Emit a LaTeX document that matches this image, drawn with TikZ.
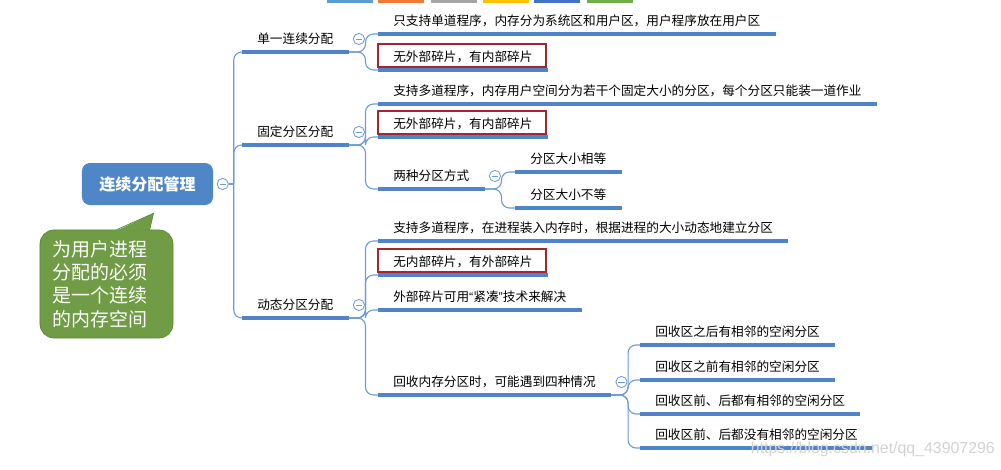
\documentclass[tikz,border=0pt]{standalone}
\usepackage{fontspec}
\setmainfont{Noto Sans CJK SC}
\newfontfamily\markfont{Liberation Sans}
\usetikzlibrary{positioning,calc}

\definecolor{lineblue}{HTML}{4F84CB}
\definecolor{linkblue}{HTML}{6E9CD9}
\definecolor{rootblue}{HTML}{4E86C8}
\definecolor{boxred}{HTML}{A5262B}
\definecolor{notegreen}{HTML}{6F9C45}
\definecolor{noteedge}{HTML}{5C8A36}

\begin{document}
\begin{tikzpicture}[
    x=0.025cm, y=-0.025cm,
    topic/.style={anchor=south west, inner xsep=0.375cm, inner ysep=0.16cm, text height=7.5pt, text depth=1.5pt, font=\fontsize{9}{11}\selectfont},
    uline/.style={lineblue, line width=2.2pt},
    link/.style={linkblue, line width=0.8pt, rounded corners=0.2cm},
    fold/.style={circle, draw=linkblue, line width=0.6pt, fill=white, minimum size=0.28cm, inner sep=0pt,
        path picture={\draw[linkblue, line width=0.6pt] ([xshift=-2.2pt]path picture bounding box.center) -- ([xshift=2.2pt]path picture bounding box.center);}},
    redbox/.style={boxred, line width=1.6pt},
    root/.style={rectangle, rounded corners=0.2cm, fill=rootblue, text=white, minimum width=3.275cm, minimum height=1.05cm, font=\fontsize{11.4}{13}\selectfont\bfseries},
    note/.style={rectangle, rounded corners=0.35cm, fill=notegreen, draw=noteedge, line width=0.5pt, text=white,
        minimum width=3.325cm, minimum height=2.7cm, inner xsep=0.325cm, text width=2.675cm, align=left, font=\fontsize{13.5}{16.7}\selectfont}
]
\useasboundingbox (0,0) rectangle (1001,469);

% tabs cut off at the top
\foreach \x/\c in {327/5B9BD5, 378/ED7D31, 431/A5A5A5, 483/FFC000, 534/4472C4, 587/70AD47} {
    \definecolor{tabcolor}{HTML}{\c}
    \fill[tabcolor] (\x,0) rectangle ++(46,2.5);
}

% root and note
\node[root] (root) at (147.5,184) {连续分配管理};
\node[fold, right=0.085cm of root] (root-fold) {};
\node[note] (memo) at (106.5,284) {为用户进程\\分配的必须\\是一个连续\\的内存空间};
\fill[notegreen] ([shift={(77,1)}]memo.north west) -- ([shift={(6,8)}]root.south) -- ([shift={(110,1)}]memo.north west) -- cycle;
\draw[noteedge, line width=0.5pt] ([shift={(77,0)}]memo.north west) -- ([shift={(6,8)}]root.south) -- ([shift={(110,0)}]memo.north west);

% first level
\node[topic] (single) at (242,52) {单一连续分配};
\node[topic] (fixed) at (242,145) {固定分区分配};
\node[topic] (dynamic) at (242,318) {动态分区分配};

% second level
\node[topic] (single-a) at (378,34) {只支持单道程序，内存分为系统区和用户区，用户程序放在用户区};
\node[topic] (single-b) at (378,70) {无外部碎片，有内部碎片};
\node[topic] (fixed-a) at (378,104) {支持多道程序，内存用户空间分为若干个固定大小的分区，每个分区只能装一道作业};
\node[topic] (fixed-b) at (378,137) {无外部碎片，有内部碎片};
\node[topic] (fixed-c) at (378,189) {两种分区方式};
\node[topic] (dynamic-a) at (378,241) {支持多道程序，在进程装入内存时，根据进程的大小动态地建立分区};
\node[topic] (dynamic-b) at (378,275) {无内部碎片，有外部碎片};
\node[topic] (dynamic-c) at (378,310) {外部碎片可用{\markfont “}紧凑{\markfont ”}技术来解决};
\node[topic] (dynamic-d) at (378,395) {回收内存分区时，可能遇到四种情况};

% third level
\node[topic] (equal) at (515,172) {分区大小相等};
\node[topic] (unequal) at (515,208) {分区大小不等};
\node[topic] (case-a) at (640,345) {回收区之后有相邻的空闲分区};
\node[topic] (case-b) at (640,380) {回收区之前有相邻的空闲分区};
\node[topic] (case-c) at (640,414) {回收区前、后都有相邻的空闲分区};
\node[topic] (case-d) at (640,448) {回收区前、后都没有相邻的空闲分区};

% connectors
\draw[link] (root-fold.east) -- ++(5,0) coordinate (trunk);
\foreach \n in {single, fixed, dynamic}
    \draw[link] (trunk) |- (\n.south west);
\foreach \p/\c in {single/single-a, single/single-b, fixed/fixed-a, fixed/fixed-b, fixed/fixed-c,
        fixed-c/equal, fixed-c/unequal, dynamic/dynamic-a, dynamic/dynamic-b, dynamic/dynamic-c, dynamic/dynamic-d,
        dynamic-d/case-a, dynamic-d/case-b, dynamic-d/case-c, dynamic-d/case-d}
    \draw[link] (\p.south east) -- ++(17,0) |- (\c.south west);

% underlines
\foreach \n in {single, fixed, dynamic, single-a, single-b, fixed-a, fixed-b, fixed-c, equal, unequal,
        dynamic-a, dynamic-b, dynamic-c, dynamic-d, case-a, case-b, case-c, case-d}
    \draw[uline] (\n.south west) -- (\n.south east);

% red frames
\foreach \n in {single-b, fixed-b, dynamic-b}
    \draw[redbox] ([shift={(0,-3)}]\n.south west) rectangle ([shift={(-2,0)}]\n.north east);

% fold buttons
\foreach \n in {single, fixed, dynamic, fixed-c, dynamic-d}
    \node[fold, right=0.11cm of \n] (\n-fold) {};

% watermark
\node[anchor=west, text=gray!35, font=\markfont\fontsize{11.3}{11.3}\selectfont] (mark) at (746,449) {https://blog.csdn.net/qq\_43907296};
\end{tikzpicture}
\end{document}
